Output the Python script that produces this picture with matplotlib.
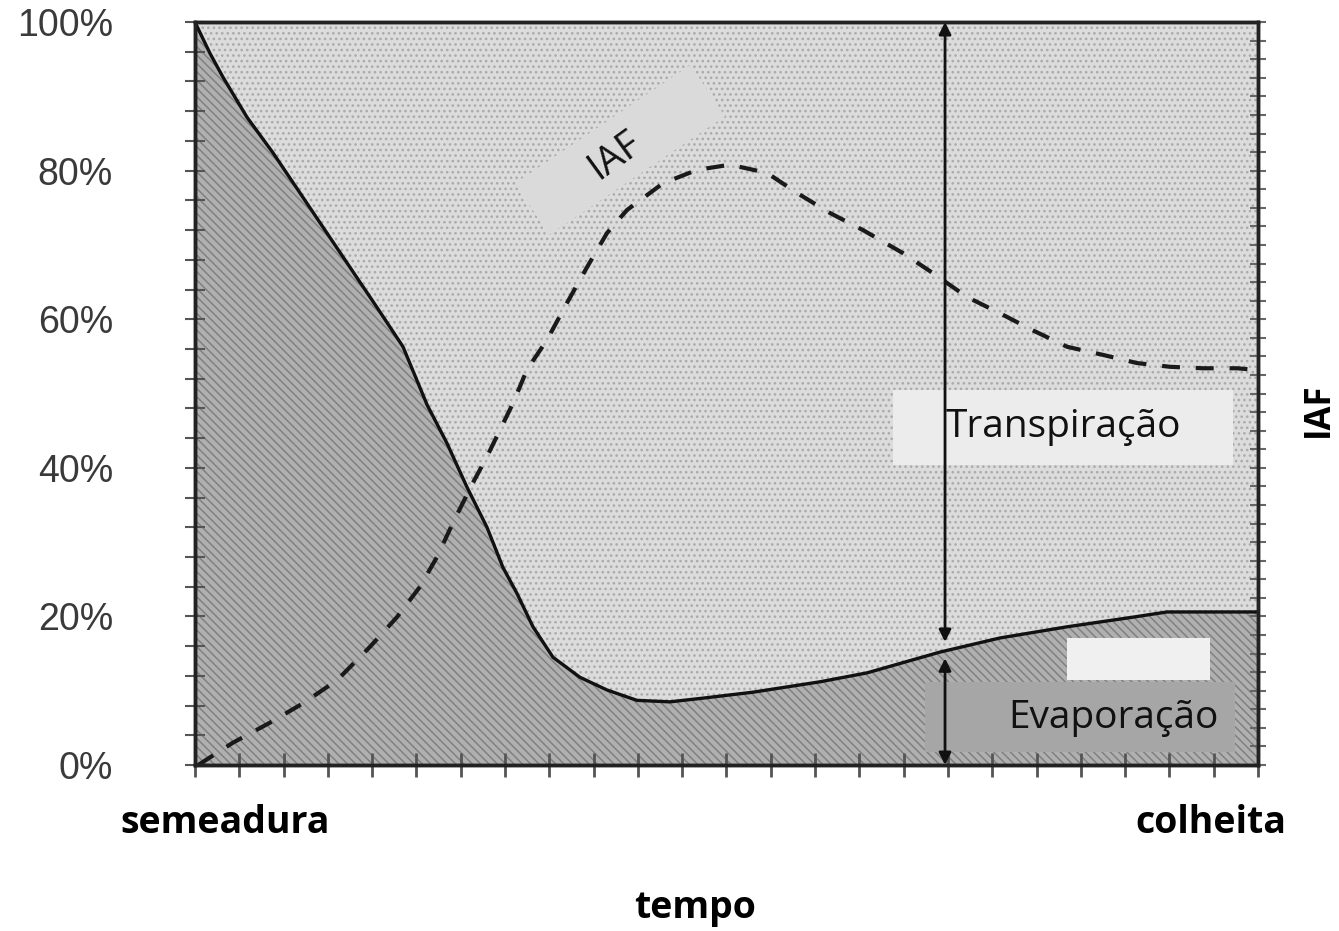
import numpy as np
import matplotlib.pyplot as plt
import matplotlib.transforms as mtransforms
from matplotlib.ticker import MultipleLocator, FuncFormatter
import matplotlib as mpl

mpl.rcParams['hatch.linewidth'] = 1.1

# fracao do tempo (semeadura=0, colheita=1) e parcela da evaporacao (%)
t_evap = [0.0, 0.0141, 0.0263, 0.0489, 0.0734, 0.0988, 0.1204, 0.1458, 0.1712,
          0.1957, 0.2183, 0.2371, 0.2559, 0.2747, 0.2897, 0.3029, 0.3180,
          0.3368, 0.3622, 0.3876, 0.4158, 0.4469, 0.4779, 0.5249, 0.5880,
          0.6322, 0.7009, 0.7573, 0.8203, 0.8824, 0.9144, 1.0]
evap = [100, 95.8, 92.6, 87.2, 82.4, 77.0, 72.4, 67.0, 61.6,
        56.3, 48.5, 43.3, 37.4, 32.0, 26.6, 23.1, 18.6,
        14.5, 11.8, 10.1, 8.7, 8.5, 9.0, 9.8, 11.2,
        12.4, 15.2, 17.1, 18.6, 19.9, 20.6, 20.6]

# IAF (curva tracejada, escala relativa)
t_iaf = [0.003, 0.0357, 0.0706, 0.1016, 0.1336, 0.1646, 0.1900, 0.2117, 0.2277,
         0.2427, 0.2615, 0.2747, 0.2869, 0.2992, 0.3123, 0.3311, 0.3500, 0.3688,
         0.3876, 0.4064, 0.4403, 0.4722, 0.5033, 0.5381, 0.5663, 0.5974, 0.6284,
         0.6660, 0.6943, 0.7262, 0.7573, 0.7883, 0.8203, 0.8542, 0.8862, 0.9172,
         0.9483, 0.9802, 0.9972]
iaf = [0, 3.0, 5.7, 8.3, 11.4, 15.9, 19.9, 24.0, 28.0,
       32.6, 38.0, 41.5, 45.1, 48.7, 53.2, 57.2, 62.2, 67.0,
       71.6, 74.7, 78.3, 80.1, 80.8, 79.7, 77.0, 74.3, 72.0,
       68.9, 66.2, 63.0, 60.8, 58.5, 56.3, 55.2, 54.1, 53.6,
       53.4, 53.4, 53.2]

t_seta = 0.7056
y_ticks = [0, 20, 40, 60, 80, 100]

fig = plt.figure(figsize=(13.39, 9.31), dpi=100)
ax = fig.add_axes([0.1456, 0.1783, 0.7939, 0.798])
ax.set_xlim(0, 1)
ax.set_ylim(0, 100)

ax.fill_between(t_evap, evap, 100, facecolor='#dcdcdc', edgecolor='#ababab',
                hatch='...', linewidth=0)
ax.fill_between(t_evap, 0, evap, facecolor='#b0b0b0', edgecolor='#808080',
                hatch='\\\\\\\\', linewidth=0)
ax.plot(t_evap, evap, color='#111111', lw=2.4)
ax.plot(t_iaf, iaf, color='#1a1a1a', lw=3, dashes=(4.3, 3.8))

# caixas de texto
ax.add_patch(plt.Rectangle((0.6566, 40.4), 0.3199, 10.1, facecolor='#ececec',
                           edgecolor='none', zorder=4))
ax.text(0.8166, 45.5, 'Transpiração', fontsize=28, family='Open Sans',
        ha='center', va='center', color='#111111', zorder=5)
ax.add_patch(plt.Rectangle((0.6867, 1.75), 0.2917, 9.45, facecolor='#a6a6a6',
                           edgecolor='none', zorder=4))
ax.add_patch(plt.Rectangle((0.8203, 11.4), 0.1345, 5.7, facecolor='#f1f0f1',
                           edgecolor='none', zorder=4))
ax.text(0.8636, 6.3, 'Evaporação', fontsize=28, family='Open Sans',
        ha='center', va='center', color='#111111', zorder=5)

# caixa inclinada do IAF (tamanho em pixels)
trans_caixa = (mtransforms.Affine2D().rotate_deg(34)
               + mtransforms.ScaledTranslation(0.3998, 82.8, ax.transData))
ax.add_patch(plt.Rectangle((-106, -31), 212, 62, facecolor='#dadada',
                           edgecolor='none', zorder=4, transform=trans_caixa))
ax.text(0.3951, 82.0, 'IAF', rotation=36, fontsize=28, family='Open Sans',
        ha='center', va='center', color='#111111', zorder=5,
        rotation_mode='anchor')

# setas
e_seta = np.interp(t_seta, t_evap, evap)
ax.annotate('', xy=(t_seta, 100), xytext=(t_seta, e_seta + 1.2),
            arrowprops=dict(arrowstyle='<|-|>', color='#111111', lw=2,
                            mutation_scale=18, shrinkA=0, shrinkB=0), zorder=6)
ax.annotate('', xy=(t_seta, 0), xytext=(t_seta, e_seta - 1.0),
            arrowprops=dict(arrowstyle='<|-|>', color='#111111', lw=2,
                            mutation_scale=18, shrinkA=0, shrinkB=0), zorder=6)

ax.set_yticks(y_ticks)
ax.yaxis.set_major_formatter(FuncFormatter(lambda v, p: '%d%%' % v))
ax.yaxis.set_minor_locator(MultipleLocator(4))
ax.xaxis.set_major_locator(MultipleLocator(1 / 24))
ax.set_xticklabels([])
ax.tick_params(axis='y', which='both', direction='inout', length=14, width=1.5,
               color='#555555', labelsize=27, labelcolor='#3a3a3a', pad=52,
               right=False)
for lab in ax.get_yticklabels():
    lab.set_family('Liberation Sans')
ax.tick_params(axis='x', direction='inout', length=17, width=2, color='#555555')

ax2 = ax.twinx()
ax2.set_ylim(0, 100)
ax2.yaxis.set_major_locator(MultipleLocator(2.5))
ax2.set_yticklabels([])
ax2.tick_params(axis='y', direction='inout', length=12, width=1.5, color='#666666')

for a in (ax, ax2):
    for s in a.spines.values():
        s.set_linewidth(2.5)
        s.set_color('#222222')

fig.text(0.168, 0.116, 'semeadura', fontsize=27, fontweight='bold',
         family='Open Sans', ha='center', va='center')
fig.text(0.904, 0.116, 'colheita', fontsize=27, fontweight='bold',
         family='Open Sans', ha='center', va='center')
fig.text(0.519, 0.025, 'tempo', fontsize=27, fontweight='bold',
         family='Open Sans', ha='center', va='center')
fig.text(0.985, 0.56, 'IAF', fontsize=25, fontweight='bold', rotation=90,
         family='Open Sans', ha='center', va='center')

fig.savefig('out.png', dpi=100)
